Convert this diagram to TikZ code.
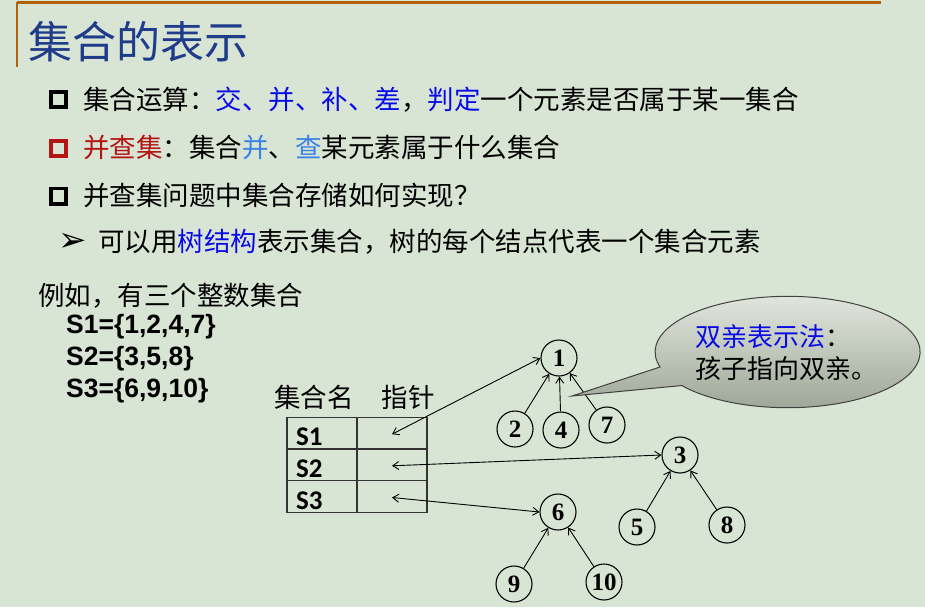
\documentclass[tikz,border=0pt]{standalone}
\usepackage{fontspec}
\usetikzlibrary{arrows.meta}
\setmainfont{Liberation Serif}
\newfontfamily\hei{Noto Sans CJK SC}
\newfontfamily\arialfont{Liberation Sans}
\newfontfamily\calfont{Carlito}
\newfontfamily\dingfont{DejaVu Sans}
\definecolor{kusa}{HTML}{D8E5D4}
\definecolor{kon}{HTML}{1F3C8A}
\definecolor{cha}{HTML}{B0620C}
\definecolor{ao}{HTML}{0A0AE6}
\definecolor{aka}{HTML}{B41414}
\definecolor{sora}{HTML}{3C82E6}
\definecolor{usuzumi}{HTML}{E4E9DF}
\definecolor{nezumi}{HTML}{9CA597}

\begin{document}
\begin{tikzpicture}[x=1pt, y=-1pt,
    >={Straight Barb[length=6pt,width=8pt]},
    txt/.style={anchor=west, inner sep=0pt, font=\hei\fontsize{26.5}{30}\selectfont},
    sset/.style={anchor=base west, inner sep=0pt, font=\arialfont\bfseries\fontsize{26.5}{30}\selectfont},
    tag/.style={anchor=west, inner sep=0pt, font=\calfont\bfseries\fontsize{27}{27}\selectfont},
    cell/.style={draw=black!80, line width=1.2pt, minimum width=70pt, minimum height=31.67pt, inner sep=0pt},
    elem/.style={circle, draw, line width=1.1pt, minimum size=36pt, inner sep=0pt, font=\bfseries\fontsize{25}{25}\selectfont},
    link/.style={line width=0.9pt}]
    \fill[kusa] (0,0) rectangle (925,607);
    \useasboundingbox (0,0) rectangle (925,607);

    % header
    \draw[cha, line width=3pt] (16.5,3) -- (881,3);
    \draw[cha, line width=2pt] (16.5,2) -- (16.5,67);
    \node[anchor=west, inner sep=0pt, text=kon, font=\hei\fontsize{44}{48}\selectfont] (title) at (28,42) {集合的表示};

    % bullets
    \foreach \y/\c in {99.5/black, 148.3/aka, 196.2/black}
        \draw[\c, line width=3.6pt] (50.8,\y-7.6) rectangle (66,\y+7.6);
    \node[txt] (op) at (83,99.5) {集合运算：{\color{ao}交、并、补、差}，{\color{ao}判定}一个元素是否属于某一集合};
    \node[txt] (uf) at (83,147.5) {{\color{aka}并查集}：集合{\color{sora}并}、{\color{sora}查}某元素属于什么集合};
    \node[txt] (ask) at (83,195.5) {并查集问题中集合存储如何实现？};
    \node[anchor=west, inner sep=0pt, font=\dingfont\fontsize{34}{34}\selectfont] (mark) at (58,242) {➢};
    \node[txt] (how) at (98,242) {可以用{\color{ao}树结构}表示集合，树的每个结点代表一个集合元素};

    % example sets
    \node[txt] (eg) at (38,295.5) {例如，有三个整数集合};
    \node[sset] (s1) at (66,333) {S1=\{1,2,4,7\}};
    \node[sset] (s2) at (66,365) {S2=\{3,5,8\}};
    \node[sset] (s3) at (66,397) {S3=\{6,9,10\}};

    % table
    \node[txt] (hname) at (274,397) {集合名};
    \node[txt] (hptr) at (381.5,397) {指针};
    \foreach \s/\y in {1/433.2, 2/464.8, 3/496.5} {
        \node[cell] (nm\s) at (322,\y) {};
        \node[cell] (ptr\s) at (392,\y) {};
        \node[tag] (lab\s) at (296,\y+4) {S\s};
        \coordinate (pp\s) at (392,\y+1);
    }

    % trees
    \foreach \n/\x/\y in {1/559/358, 2/515/429, 4/561/430, 7/607/425,
                          3/680/455, 5/637/527, 8/727/525,
                          6/558/512, 9/514/584, 10/604/582}
        \node[elem] (r\n) at (\x,\y) {\n};
    \foreach \a/\b in {2/1, 4/1, 7/1, 5/3, 8/3, 9/6, 10/6}
        \draw[link, ->] (r\a) -- (r\b);
    \draw[link, <->] (pp1) -- (r1.west);
    \draw[link, <->] (pp2) -- (r3.west);
    \draw[link, <->] (pp3) -- (r6.west);

    % callout
    \shade[top color=usuzumi, bottom color=nezumi, draw=black!75, line width=1pt]
        (572,396) -- (660,367) arc[start angle=195.6, end angle=-143, x radius=132.5pt, y radius=55.7pt] -- cycle;
    \node[align=left, inner sep=0pt, font=\hei\fontsize{26}{32}\selectfont] (bubble) at (786,352.5)
        {{\color{ao}双亲表示法}：\\孩子指向双亲。};
\end{tikzpicture}
\end{document}
